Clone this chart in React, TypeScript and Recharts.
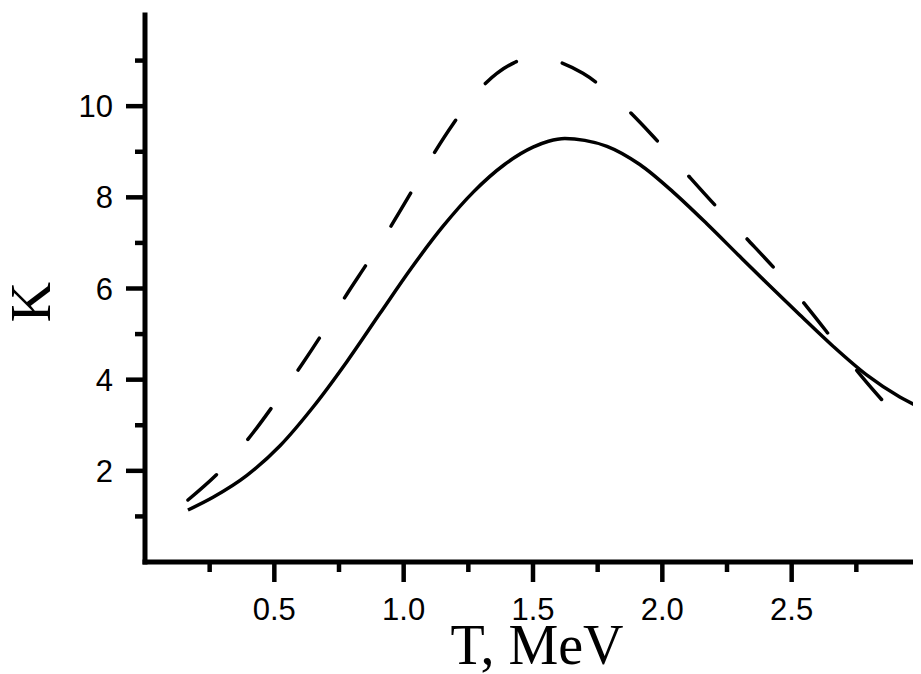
import React from "react";
import { LineChart, Line, XAxis, YAxis, Label } from "recharts";

// Solid curve (T, K)
const solidT = [0.166, 0.263, 0.394, 0.522, 0.65, 0.781, 0.908, 1.03, 1.15, 1.27, 1.39, 1.5, 1.56, 1.623, 1.7, 1.786, 1.913, 2.041, 2.172, 2.3, 2.404, 2.532, 2.659, 2.791, 2.918, 3.0];
const solidK = [1.14, 1.42, 1.9, 2.55, 3.4, 4.4, 5.45, 6.45, 7.35, 8.12, 8.72, 9.1, 9.23, 9.29, 9.25, 9.12, 8.72, 8.12, 7.42, 6.7, 6.12, 5.42, 4.74, 4.1, 3.62, 3.38];

// Dashed curve (T, K)
const dashT = [0.166, 0.298, 0.417, 0.514, 0.611, 0.692, 0.781, 0.862, 0.951, 1.028, 1.109, 1.191, 1.299, 1.426, 1.49, 1.562, 1.693, 1.832, 1.956, 2.076, 2.192, 2.327, 2.443, 2.563, 2.663, 2.772, 2.88];
const dashK = [1.36, 2.04, 2.83, 3.58, 4.37, 5.07, 5.88, 6.58, 7.37, 8.1, 8.89, 9.61, 10.4, 10.95, 11.07, 11.03, 10.72, 10.1, 9.39, 8.63, 7.9, 7.09, 6.38, 5.57, 4.85, 4.06, 3.36];

const xTicks = [0.25, 0.5, 0.75, 1.0, 1.25, 1.5, 1.75, 2.0, 2.25, 2.5, 2.75];
const yTicks = [1, 2, 3, 4, 5, 6, 7, 8, 9, 10, 11];
const xTitle = "T, MeV";
const yTitle = "K";

const solidData = solidT.map((t, i) => ({ x: t, y: solidK[i] }));
const dashData = dashT.map((t, i) => ({ x: t, y: dashK[i] }));

const SANS = "'Liberation Sans', Arial, Helvetica, sans-serif";
const SERIF = "'Liberation Serif', 'Times New Roman', Times, serif";

const XTick = (props: any) => {
  const { x, y, payload } = props;
  const v = payload.value as number;
  const major = Math.abs(v * 2 - Math.round(v * 2)) < 1e-6;
  return (
    <g>
      <line x1={x} y1={y} x2={x} y2={y + (major ? 20 : 10)} stroke="#000" strokeWidth={4.5} />
      {major && (
        <text x={x} y={y + 58} textAnchor="middle" fontSize={31} fontFamily={SANS} fill="#000">
          {v.toFixed(1)}
        </text>
      )}
    </g>
  );
};

const YTick = (props: any) => {
  const { x, y, payload } = props;
  const v = payload.value as number;
  const major = v % 2 === 0;
  return (
    <g>
      <line x1={x - (major ? 19 : 10)} y1={y} x2={x} y2={y} stroke="#000" strokeWidth={4.5} />
      {major && (
        <text x={x - 32} y={y + 11} textAnchor="end" fontSize={31} fontFamily={SANS} fill="#000">
          {String(v)}
        </text>
      )}
    </g>
  );
};

export default function App() {
  return (
    <div style={{ width: 913, height: 666, background: "#fff" }}>
      <LineChart width={913} height={666} margin={{ top: 7, right: 0, left: 0, bottom: 0 }}>
        <XAxis
          type="number"
          dataKey="x"
          domain={[0, 3]}
          ticks={xTicks}
          interval={0}
          height={112}
          tickSize={0}
          tickMargin={0}
          tickLine={false}
          tick={XTick}
          axisLine={{ stroke: "#000", strokeWidth: 5, strokeLinecap: "square" }}
          allowDataOverflow
        >
          <Label
            content={(p: any) => {
              const vb = p.viewBox || { x: 137, y: 554, width: 776 };
              return (
                <text x={vb.x + vb.width / 2 + 4} y={vb.y + 102} textAnchor="middle" fontSize={56} fontFamily={SERIF} fill="#000">
                  {xTitle}
                </text>
              );
            }}
          />
        </XAxis>
        <YAxis
          type="number"
          domain={[0, 12]}
          ticks={yTicks}
          interval={0}
          width={137}
          tickSize={0}
          tickMargin={0}
          tickLine={false}
          tick={YTick}
          axisLine={{ stroke: "#000", strokeWidth: 5, strokeLinecap: "square" }}
          allowDataOverflow
        >
          <Label
            content={() => (
              <text x={42} y={294} transform="rotate(-90 42 294)" textAnchor="middle" fontSize={56} fontFamily={SERIF} fill="#000">
                {yTitle}
              </text>
            )}
          />
        </YAxis>
        <Line
          data={solidData}
          dataKey="y"
          type="monotone"
          stroke="#000"
          strokeWidth={3.5}
          dot={false}
          activeDot={false}
          isAnimationActive={false}
        />
        <Line
          data={dashData}
          dataKey="y"
          type="monotone"
          stroke="#000"
          strokeWidth={3.5}
          strokeDasharray="38.3 47.3"
          strokeLinecap="round"
          dot={false}
          activeDot={false}
          isAnimationActive={false}
        />
      </LineChart>
    </div>
  );
}
